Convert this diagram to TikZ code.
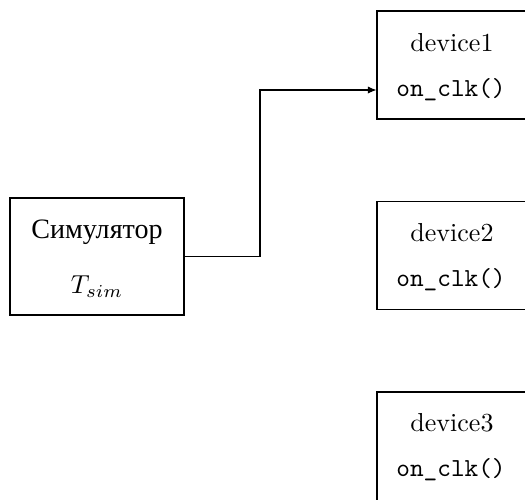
\documentclass[tikz,border=0pt]{standalone}
\usepackage{fontspec}
\newfontfamily\cyrfont{Liberation Serif}[Scale=1.08]
\usetikzlibrary{arrows.meta}
\begin{document}
\begin{tikzpicture}[x=0.3846pt,y=-0.3846pt,
  box/.style={draw,line width=0.4pt,inner sep=0pt},
  simbox/.style={box,minimum width={174*0.3846pt},minimum height={117*0.3846pt}},
  devbox/.style={box,minimum width={156*0.3846pt},minimum height={108*0.3846pt}},
  lbl/.style={inner sep=0pt,anchor=center},
  conn/.style={line width=0.4pt,-{Latex[length=3.3pt,width=2.8pt]}}]
\useasboundingbox (0,0) rectangle (525,499);
\clip (0,0) rectangle (525,499);
\node[simbox] (sim) at (97,256.5) {};
\node[lbl] (simname) at (97,232) {\cyrfont Симулятор};
\node[lbl] (tsim) at (97,287) {$T_{sim}$};
\node[devbox] (dev1) at (455,65) {};
\node[lbl] (d1name) at (452,43) {device1};
\node[lbl] (clk1) at (451,90) {\texttt{on\_clk()}};
\node[devbox] (dev2) at (455,255.5) {};
\node[lbl] (d2name) at (452,233) {device2};
\node[lbl] (clk2) at (451,280) {\texttt{on\_clk()}};
\node[devbox,minimum height={120*0.3846pt}] (dev3) at (455,452) {};
\node[lbl] (d3name) at (452,423) {device3};
\node[lbl] (clk3) at (451,470) {\texttt{on\_clk()}};
\coordinate (bend) at (260,0);
\draw[conn] (sim.east) -- (bend |- sim.east) |- (dev1.west |- clk1);
\end{tikzpicture}
\end{document}
